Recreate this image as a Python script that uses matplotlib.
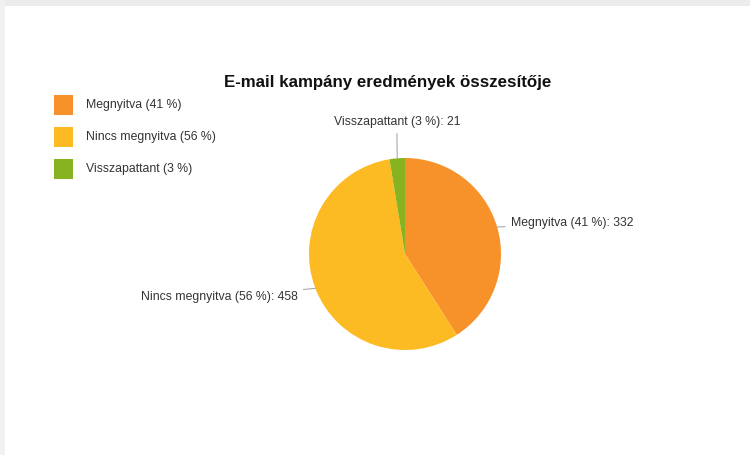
import matplotlib
matplotlib.use('Agg')
import matplotlib.pyplot as plt
from matplotlib.patches import Rectangle
import numpy as np

# chart data
categories = ['Megnyitva', 'Nincs megnyitva', 'Visszapattant']
counts = [332, 458, 21]
percents = [41, 56, 3]
colors = ['#f7912a', '#fdbb23', '#87b321']
title = 'E-mail kampány eredmények összesítője'

plt.rcParams['font.family'] = ['Liberation Sans', 'DejaVu Sans']

W, H = 750, 455
fig = plt.figure(figsize=(W / 100, H / 100), dpi=100)
fig.patch.set_facecolor('white')

# light gray frame at top and left edge
fig.patches.append(Rectangle((0, 1 - 6 / H), 1, 6 / H, transform=fig.transFigure,
                             facecolor='#ececec', edgecolor='none'))
fig.patches.append(Rectangle((0, 0), 5 / W, 1, transform=fig.transFigure,
                             facecolor='#f1f1f1', edgecolor='none'))

# pie axes, center (405, 254) px, radius 96 px
cx, cy, r = 405, 254, 96
ax = fig.add_axes([(cx - r) / W, (H - cy - r) / H, 2 * r / W, 2 * r / H])
wedges, _ = ax.pie(counts, colors=colors, startangle=90, counterclock=False,
                   radius=1, wedgeprops=dict(linewidth=0))
ax.set_xlim(-1, 1)
ax.set_ylim(-1, 1)
ax.set_aspect('equal')
ax.axis('off')

# slice labels with leader lines
label_pos = [(1.10, 0.32, 'left'), (-1.115, -0.45, 'right'), (-0.085, 1.375, 'center')]
for w, cat, p, n, (tx, ty, ha) in zip(wedges, categories, percents, counts, label_pos):
    ang = np.deg2rad((w.theta1 + w.theta2) / 2)
    px, py = np.cos(ang), np.sin(ang)
    ax.annotate(f'{cat} ({p} %): {n}', xy=(px, py), xytext=(tx, ty),
                ha=ha, va='center', fontsize=8.8, color='#333333',
                annotation_clip=False,
                arrowprops=dict(arrowstyle='-', color='#aaaaaa', lw=0.8,
                                shrinkA=2, shrinkB=0))

fig.text(387.5 / W, 1 - 83 / H, title, ha='center', va='center',
         fontsize=12.2, fontweight='bold', color='#111111')

# legend: colored squares with labels, drawn by hand
for i, (c, cat, p) in enumerate(zip(colors, categories, percents)):
    top = 95 + 32 * i
    fig.patches.append(Rectangle((54 / W, 1 - (top + 20) / H), 19 / W, 20 / H,
                                 transform=fig.transFigure, facecolor=c,
                                 edgecolor='none'))
    fig.text(86 / W, 1 - (top + 10) / H, f'{cat} ({p} %)', ha='left', va='center',
             fontsize=8.8, color='#333333')

fig.savefig('out.png', dpi=100)
